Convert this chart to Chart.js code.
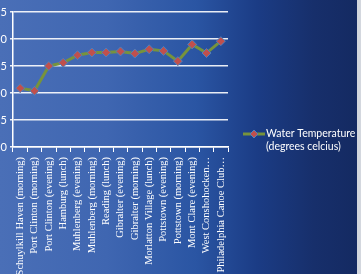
<!DOCTYPE html>
<html>
<head>
<meta charset="utf-8">
<script src="https://cdn.jsdelivr.net/npm/chart.js@4"></script>
<style>
  html, body { margin: 0; padding: 0; }
  body { width: 361px; height: 274px; overflow: hidden; position: relative; background: #d3d7de; }
  #bg {
    position: absolute; left: 0; top: 0; width: 357px; height: 274px;
    background: linear-gradient(to right, #4a6fb7 0%, #3f66b1 30%, #2a55a3 55%, #1b3c85 72%, #172f6b 88%, #142a62 100%);
  }
  #myChart1 { position: absolute; left: -12px; top: 0; }
</style>
</head>
<body>
<div id="bg"></div>
<canvas id="myChart1" width="369" height="274"></canvas>
<script>
// stops along the river
var stops = ['Schuylkill Haven (morning)', 'Port Clinton (morning)', 'Port Clinton (evening)',
  'Hamburg (lunch)', 'Muhlenberg (evening)', 'Muhlenberg (morning)', 'Reading (lunch)',
  'Gibralter (evening)', 'Gibralter (morning)', 'Morlatton Village (lunch)', 'Pottstown (evening)',
  'Pottstown (morning)', 'Mont Clare (evening)', 'West Conshohocken…', 'Philadelphia Canoe Club…'];
var waterTemp = [10.9, 10.4, 15.0, 15.6, 17.0, 17.5, 17.5, 17.7, 17.3, 18.1, 17.8, 15.9, 19.0, 17.4, 19.6];
var tempTicks = [0, 5, 10, 15, 20, 25];
var seriesName = ['Water Temperature', '(degrees celcius)'];

// legend drawn by hand: line sample + diamond, two lines of text
var sideLegend = {
  id: 'sideLegend',
  afterDraw: function (chart) {
    var ds = chart.data.datasets[0];
    var c = chart.ctx;
    var x = chart.chartArea.right + 15, y = 134;
    c.save();
    c.strokeStyle = ds.borderColor;
    c.lineWidth = 3;
    c.beginPath();
    c.moveTo(x, y);
    c.lineTo(x + 22, y);
    c.stroke();
    c.beginPath();
    c.moveTo(x + 11, y - 4);
    c.lineTo(x + 15, y);
    c.lineTo(x + 11, y + 4);
    c.lineTo(x + 7, y);
    c.closePath();
    c.fillStyle = ds.pointBackgroundColor;
    c.fill();
    c.strokeStyle = ds.pointBorderColor;
    c.lineWidth = 1;
    c.stroke();
    c.fillStyle = '#ffffff';
    c.font = '10.5px Lato';
    c.textBaseline = 'middle';
    c.fillText(seriesName[0], x + 23, y);
    c.fillText(seriesName[1], x + 23, y + 13);
    c.restore();
  }
};

var ctx = document.getElementById('myChart1').getContext('2d');
var chart = new Chart(ctx, {
  type: 'line',
  data: {
    labels: stops,
    datasets: [{
      label: seriesName.join(' '),
      data: waterTemp,
      borderColor: '#77933c',
      borderWidth: 3,
      pointStyle: 'rectRot',
      pointRadius: 4.5,
      pointBackgroundColor: '#c0504d',
      pointBorderColor: '#4f81bd',
      pointBorderWidth: 1,
      tension: 0
    }]
  },
  options: {
    responsive: false,
    animation: false,
    layout: { padding: { top: 12, right: 129, left: 0, bottom: 0 } },
    plugins: { legend: { display: false }, tooltip: { enabled: false } },
    scales: {
      x: {
        offset: true,
        afterFit: function (s) { s.height = 127; },
        grid: { drawOnChartArea: false, drawTicks: true, tickLength: 5, color: '#ffffff', lineWidth: 1, offset: true },
        border: { color: '#ffffff', width: 1.5 },
        ticks: {
          color: '#ffffff', maxRotation: 90, minRotation: 90, autoSkip: false, padding: 5,
          font: { family: 'Liberation Serif', size: 10.5 }
        }
      },
      y: {
        min: 0, max: 25,
        afterFit: function (s) { s.width = 25; },
        afterBuildTicks: function (s) { s.ticks = tempTicks.map(function (v) { return { value: v }; }); },
        grid: { color: 'rgba(255,255,255,0.9)', lineWidth: 1.5, tickLength: 3 },
        border: { color: '#ffffff', width: 1.5 },
        ticks: { color: '#ffffff', padding: 3, font: { family: 'Lato', size: 11 } }
      }
    }
  },
  plugins: [sideLegend]
});
</script>
</body>
</html>
